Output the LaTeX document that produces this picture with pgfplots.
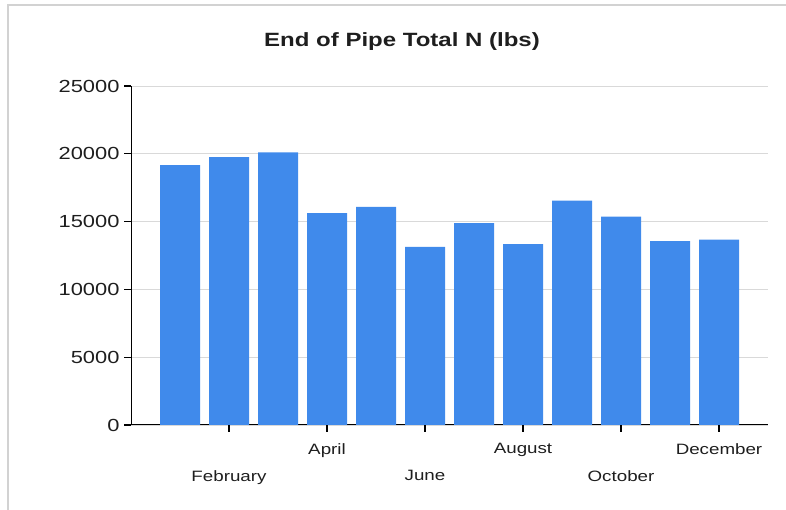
\documentclass[border=0pt]{standalone}
\usepackage{pgfplots}
\pgfplotsset{compat=1.18}
\usepackage{fontspec}
\setmainfont{Liberation Sans}[FakeStretch=1.25]
\definecolor{barblue}{RGB}{64,138,235}
\definecolor{gridgray}{RGB}{217,217,217}
\definecolor{txt}{RGB}{30,30,30}
\begin{document}
\begin{tikzpicture}[x=1pt,y=1pt]
\path[use as bounding box] (0,0) rectangle (786,510);
\draw[color={rgb,255:red,210;green,210;blue,210},line width=1.2pt] (8,0) -- (8,505) -- (786,505);
\node[font=\fontsize{19.2}{21}\selectfont\bfseries,text=txt] at (402,468) {End of Pipe Total N (lbs)};
\begin{axis}[
  at={(131pt,85pt)}, anchor=south west,
  width=637pt, height=339pt, scale only axis,
  xmin=0, xmax=13, ymin=0, ymax=25000,
  enlargelimits=false,
  axis x line*=bottom, axis y line*=left,
  axis line style={-, black, line width=1pt},
  xtick pos=bottom, ytick pos=left,
  ytick={0,5000,10000,15000,20000,25000},
  scaled y ticks=false,
  /pgf/number format/assume math mode=true,
  yticklabel={\pgfmathprintnumber[fixed,1000 sep={}]{\tick}},
  yticklabel style={font=\fontsize{17.5}{19}\selectfont, text=txt, xshift=-1pt},
  xtick={4,8,12},
  xticklabels={April,August,December},
  xticklabel style={font=\fontsize{15}{17}\selectfont, text=txt, yshift=-8pt},
  extra x ticks={2,6,10},
  extra x tick labels={February,June,October},
  extra x tick style={tick label style={yshift=-27pt}, grid=none},
  tick align=outside,
  major tick length=7pt,
  tick style={black, line width=1.2pt},
  ymajorgrids, grid style={gridgray, line width=0.8pt},
  ybar, bar width=40pt,
]
\addplot[fill=barblue, draw=none] coordinates {
(1,19160) (2,19750) (3,20096) (4,15620) (5,16090) (6,13136)
(7,14885) (8,13335) (9,16555) (10,15375) (11,13557) (12,13675)
};
\end{axis}
\end{tikzpicture}
\end{document}
